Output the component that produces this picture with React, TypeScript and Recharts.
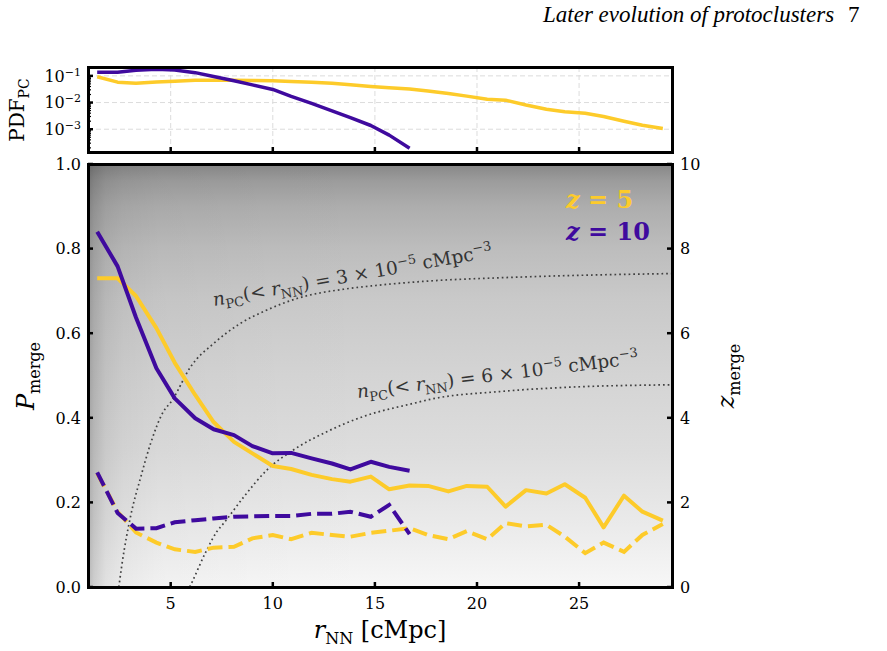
import { LineChart, Line, XAxis, YAxis, ReferenceLine } from 'recharts';

// bin centres of r_NN [cMpc]
const rNN = [1.4, 2.4, 3.3, 4.3, 5.2, 6.2, 7.1, 8.1, 9.0, 10.0, 10.9, 11.9, 12.9, 13.8, 14.8, 15.7, 16.7, 17.6, 18.6, 19.5, 20.5, 21.4, 22.4, 23.4, 24.3, 25.3, 26.2, 27.2, 28.1, 29.1];

// top panel: PDF of protocluster r_NN
const pdfZ5 = [0.093, 0.058, 0.053, 0.059, 0.063, 0.068, 0.069, 0.069, 0.067, 0.065, 0.062, 0.058, 0.053, 0.046, 0.04, 0.036, 0.032, 0.027, 0.022, 0.0174, 0.0132, 0.0123, 0.0081, 0.0056, 0.0045, 0.004, 0.003, 0.002, 0.0014, 0.00107];
const pdfZ10 = [0.138, 0.138, 0.162, 0.178, 0.166, 0.132, 0.095, 0.066, 0.046, 0.031, 0.017, 0.0093, 0.0049, 0.0027, 0.00138, 0.0006, 0.000195];

// main panel: merger probability (solid, left axis)
const pMergeZ5 = [0.73, 0.73, 0.688, 0.612, 0.53, 0.454, 0.39, 0.343, 0.316, 0.286, 0.279, 0.265, 0.255, 0.249, 0.261, 0.231, 0.24, 0.239, 0.226, 0.239, 0.237, 0.19, 0.229, 0.221, 0.243, 0.211, 0.141, 0.216, 0.178, 0.157];
const pMergeZ10 = [0.84, 0.758, 0.637, 0.517, 0.446, 0.399, 0.373, 0.359, 0.333, 0.316, 0.317, 0.304, 0.292, 0.278, 0.296, 0.284, 0.275];

// merger redshift (dashed, right axis)
const zMergeZ5 = [2.69, 1.78, 1.29, 1.05, 0.89, 0.83, 0.93, 0.95, 1.15, 1.23, 1.13, 1.28, 1.23, 1.19, 1.28, 1.33, 1.39, 1.23, 1.13, 1.32, 1.13, 1.51, 1.43, 1.47, 1.19, 0.8, 1.05, 0.83, 1.23, 1.49];
const zMergeZ10 = [2.71, 1.75, 1.38, 1.39, 1.53, 1.58, 1.62, 1.66, 1.67, 1.68, 1.68, 1.73, 1.73, 1.78, 1.66, 1.94, 1.25];

// constant number density curves (dotted)
const nPC3R = [2.46, 2.62, 3.03, 3.54, 4.02, 4.6, 5.08, 5.98, 7.11, 8.41, 9.72, 11.18, 13.62, 15.08, 17.84, 21.1, 24.35, 29.55];
const nPC3Z = [0, 0.56, 1.66, 2.61, 3.4, 4.11, 4.42, 5.21, 5.76, 6.23, 6.55, 6.82, 7.05, 7.13, 7.24, 7.31, 7.36, 7.41];
const nPC6R = [5.93, 6.06, 6.69, 7.26, 7.6, 8.58, 9.72, 11.01, 12.64, 14.43, 16.87, 17.84, 21.1, 24.35, 29.55];
const nPC6Z = [0, 0.13, 0.8, 1.31, 1.51, 2.13, 2.77, 3.24, 3.67, 4.03, 4.34, 4.45, 4.62, 4.72, 4.78];

const xTicks = [5, 10, 15, 20, 25];
const pTicks = [0, 0.2, 0.4, 0.6, 0.8, 1.0];
const zTicks = [0, 2, 4, 6, 8, 10];
const pdfTicks = [
  0.0002, 0.0003, 0.0004, 0.0005, 0.0006, 0.0007, 0.0008, 0.0009,
  0.001, 0.002, 0.003, 0.004, 0.005, 0.006, 0.007, 0.008, 0.009,
  0.01, 0.02, 0.03, 0.04, 0.05, 0.06, 0.07, 0.08, 0.09,
  0.1, 0.2,
];
const pdfMajor = [0.1, 0.01, 0.001];

const yellow = '#FDCB2A';
const purple = '#3F0A9E';
const serif = '"DejaVu Serif", serif';
const tickText = { fontFamily: serif, fontSize: 16 };

const rows = (xs: number[], ys: number[]) => ys.map((v, i) => ({ r: xs[i], v }));

const isMajor = (v: number) => {
  const l = Math.log10(v);
  return Math.abs(l - Math.round(l)) < 1e-6;
};

const LeftTick = (props: any) => {
  const { x, y, payload } = props;
  const ax = x + 7;
  return (
    <g>
      <line x1={ax} x2={ax + 5} y1={y} y2={y} stroke="#000" strokeWidth={2.5} />
      <text x={x} y={y} dy="0.36em" textAnchor="end" style={tickText} fill="#000">
        {Number(payload.value).toFixed(1)}
      </text>
    </g>
  );
};

const RightTick = (props: any) => {
  const { x, y, payload } = props;
  const ax = x - 8;
  return (
    <g>
      <line x1={ax} x2={ax - 5} y1={y} y2={y} stroke="#000" strokeWidth={2.5} />
      <text x={x} y={y} dy="0.36em" textAnchor="start" style={tickText} fill="#000">
        {payload.value}
      </text>
    </g>
  );
};

const BottomTick = (props: any) => {
  const { x, y, payload, showLabel } = props;
  return (
    <g>
      <line x1={x} x2={x} y1={y} y2={y - 5} stroke="#000" strokeWidth={2.5} />
      {showLabel && (
        <text x={x} y={y + 10} dy="0.75em" textAnchor="middle" style={tickText} fill="#000">
          {payload.value}
        </text>
      )}
    </g>
  );
};

const LogTick = (props: any) => {
  const { x, y, payload } = props;
  const ax = x + 7;
  const major = isMajor(payload.value);
  return (
    <g>
      <line x1={ax} x2={ax + (major ? 5 : 3)} y1={y} y2={y} stroke="#000" strokeWidth={major ? 2.5 : 1.2} />
      {major && (
        <text x={x} y={y} dy="0.36em" textAnchor="end" style={tickText} fill="#000">
          10
          <tspan dy="-0.55em" style={{ fontSize: 11 }}>
            {'\u2212' + Math.round(-Math.log10(payload.value))}
          </tspan>
        </text>
      )}
    </g>
  );
};

const frame = (left: number, top: number, w: number, h: number) => ({
  position: 'absolute' as const,
  left: left - 1.5,
  top: top - 1.5,
  width: w + 3,
  height: h + 3,
  border: '3px solid #000',
  boxSizing: 'border-box' as const,
  pointerEvents: 'none' as const,
});

const annot = {
  position: 'absolute' as const,
  transformOrigin: 'left center',
  fontSize: 18.5,
  color: '#333',
  whiteSpace: 'nowrap' as const,
  lineHeight: '22px',
};
const small = { fontSize: 13 };

export default function App() {
  return (
    <div style={{ position: 'absolute', left: 0, top: 0, width: 887, height: 651, background: '#fff', overflow: 'hidden', fontFamily: serif }}>
      {/* running header */}
      <div style={{ position: 'absolute', left: 543, top: 1, fontFamily: '"Liberation Serif", serif', fontStyle: 'italic', fontSize: 23, lineHeight: '28px', whiteSpace: 'nowrap' }}>
        Later evolution of protoclusters
      </div>
      <div style={{ position: 'absolute', left: 848, top: 1, fontFamily: '"Liberation Serif", serif', fontSize: 23, lineHeight: '28px' }}>7</div>

      {/* main panel background */}
      <div
        style={{
          position: 'absolute',
          left: 88,
          top: 164,
          width: 584,
          height: 423,
          background:
            'linear-gradient(to right, rgba(0,0,0,0.25) 0%, rgba(0,0,0,0.17) 1%, rgba(0,0,0,0.09) 3%, rgba(0,0,0,0.05) 6%, rgba(0,0,0,0.025) 12%, rgba(0,0,0,0.008) 30%, rgba(0,0,0,0) 50%),' +
            'linear-gradient(to bottom, #868686 0%, #9c9c9c 4%, #adadad 10%, #bdbdbd 20%, #c9c9c9 32%, #d4d4d4 50%, #dddddd 68%, #eaeaea 85%, #f7f7f7 100%)',
        }}
      />

      {/* top panel: PDF */}
      <div style={{ position: 'absolute', left: 0, top: 0 }}>
        <LineChart width={887} height={160} margin={{ top: 67, right: 215, bottom: 0, left: 38 }}>
          <XAxis
            type="number"
            dataKey="r"
            domain={[0.95, 29.55]}
            allowDataOverflow
            ticks={xTicks}
            interval={0}
            height={8}
            tickSize={0}
            tickMargin={0}
            tickLine={false}
            axisLine={false}
            tick={(p: any) => <BottomTick {...p} showLabel={false} />}
          />
          <YAxis
            type="number"
            scale="log"
            domain={[0.00014, 0.215]}
            allowDataOverflow
            ticks={pdfTicks}
            interval={0}
            width={50}
            tickSize={0}
            tickMargin={7}
            tickLine={false}
            axisLine={false}
            tick={(p: any) => <LogTick {...p} />}
          />
          {xTicks.map((t) => (
            <ReferenceLine key={'vx' + t} x={t} stroke="#dcdcdc" strokeWidth={1} strokeDasharray="5 3" />
          ))}
          {pdfMajor.map((t) => (
            <ReferenceLine key={'hy' + t} y={t} stroke="#dcdcdc" strokeWidth={1} strokeDasharray="5 3" />
          ))}
          <Line data={rows(rNN, pdfZ5)} dataKey="v" stroke={yellow} strokeWidth={3.5} dot={false} type="linear" strokeLinejoin="round" isAnimationActive={false} />
          <Line data={rows(rNN.slice(0, pdfZ10.length), pdfZ10)} dataKey="v" stroke={purple} strokeWidth={3.5} dot={false} type="linear" strokeLinejoin="round" isAnimationActive={false} />
        </LineChart>
      </div>

      {/* main panel */}
      <div style={{ position: 'absolute', left: 0, top: 0 }}>
        <LineChart width={887} height={651} margin={{ top: 164, right: 165, bottom: 24, left: 38 }}>
          <XAxis
            type="number"
            dataKey="r"
            domain={[0.95, 29.55]}
            allowDataOverflow
            ticks={xTicks}
            interval={0}
            height={40}
            tickSize={0}
            tickMargin={0}
            tickLine={false}
            axisLine={false}
            tick={(p: any) => <BottomTick {...p} showLabel />}
          />
          <YAxis
            yAxisId="p"
            type="number"
            domain={[0, 1]}
            ticks={pTicks}
            interval={0}
            width={50}
            tickSize={0}
            tickMargin={7}
            tickLine={false}
            axisLine={false}
            tick={(p: any) => <LeftTick {...p} />}
          />
          <YAxis
            yAxisId="z"
            orientation="right"
            type="number"
            domain={[0, 10]}
            allowDataOverflow
            ticks={zTicks}
            interval={0}
            width={50}
            tickSize={0}
            tickMargin={8}
            tickLine={false}
            axisLine={false}
            tick={(p: any) => <RightTick {...p} />}
          />
          <Line yAxisId="z" data={rows(nPC3R, nPC3Z)} dataKey="v" stroke="#404040" strokeWidth={1.7} strokeDasharray="1.7 3" dot={false} type="monotone" isAnimationActive={false} />
          <Line yAxisId="z" data={rows(nPC6R, nPC6Z)} dataKey="v" stroke="#404040" strokeWidth={1.7} strokeDasharray="1.7 3" dot={false} type="monotone" isAnimationActive={false} />
          <Line yAxisId="p" data={rows(rNN, pMergeZ5)} dataKey="v" stroke={yellow} strokeWidth={4} dot={false} type="linear" strokeLinejoin="round" isAnimationActive={false} />
          <Line yAxisId="z" data={rows(rNN, zMergeZ5)} dataKey="v" stroke={yellow} strokeWidth={4} strokeDasharray="15 6" dot={false} type="linear" isAnimationActive={false} />
          <Line yAxisId="p" data={rows(rNN.slice(0, pMergeZ10.length), pMergeZ10)} dataKey="v" stroke={purple} strokeWidth={4} dot={false} type="linear" strokeLinejoin="round" isAnimationActive={false} />
          <Line yAxisId="z" data={rows(rNN.slice(0, zMergeZ10.length), zMergeZ10)} dataKey="v" stroke={purple} strokeWidth={4} strokeDasharray="15 6" dot={false} type="linear" isAnimationActive={false} />
        </LineChart>
      </div>

      {/* frames */}
      <div style={frame(88, 67, 584, 85)} />
      <div style={frame(88, 164, 584, 423)} />

      {/* curve annotations */}
      <div style={{ ...annot, left: 213, top: 284, transform: 'rotate(-10deg)' }}>
        <i>n</i><sub style={small}>PC</sub>(&lt; <i>r</i><sub style={small}>NN</sub>) = 3 × 10<sup style={small}>−5</sup> cMpc<sup style={small}>−3</sup>
      </div>
      <div style={{ ...annot, left: 357, top: 376, transform: 'rotate(-7deg)' }}>
        <i>n</i><sub style={small}>PC</sub>(&lt; <i>r</i><sub style={small}>NN</sub>) = 6 × 10<sup style={small}>−5</sup> cMpc<sup style={small}>−3</sup>
      </div>

      {/* legend text */}
      <div style={{ position: 'absolute', left: 566, top: 186, fontSize: 24, fontWeight: 'bold', color: yellow, whiteSpace: 'nowrap', lineHeight: '28px' }}>
        <i>z</i> = 5
      </div>
      <div style={{ position: 'absolute', left: 566, top: 218, fontSize: 24, fontWeight: 'bold', color: purple, whiteSpace: 'nowrap', lineHeight: '28px' }}>
        <i>z</i> = 10
      </div>

      {/* axis labels */}
      <div style={{ position: 'absolute', left: 18, top: 110, transform: 'translate(-50%, -50%) rotate(-90deg)', fontSize: 20, whiteSpace: 'nowrap' }}>
        PDF<sub style={{ fontSize: 14 }}>PC</sub>
      </div>
      <div style={{ position: 'absolute', left: 28, top: 376, transform: 'translate(-50%, -50%) rotate(-90deg)', fontSize: 24, whiteSpace: 'nowrap' }}>
        <i>P</i><sub style={{ fontSize: 16 }}>merge</sub>
      </div>
      <div style={{ position: 'absolute', left: 728, top: 376, transform: 'translate(-50%, -50%) rotate(-90deg)', fontSize: 24, whiteSpace: 'nowrap' }}>
        <i>z</i><sub style={{ fontSize: 16 }}>merge</sub>
      </div>
      <div style={{ position: 'absolute', left: 380, top: 632, transform: 'translate(-50%, -50%)', fontSize: 24, whiteSpace: 'nowrap' }}>
        <i>r</i><sub style={{ fontSize: 16 }}>NN</sub> [cMpc]
      </div>
    </div>
  );
}
